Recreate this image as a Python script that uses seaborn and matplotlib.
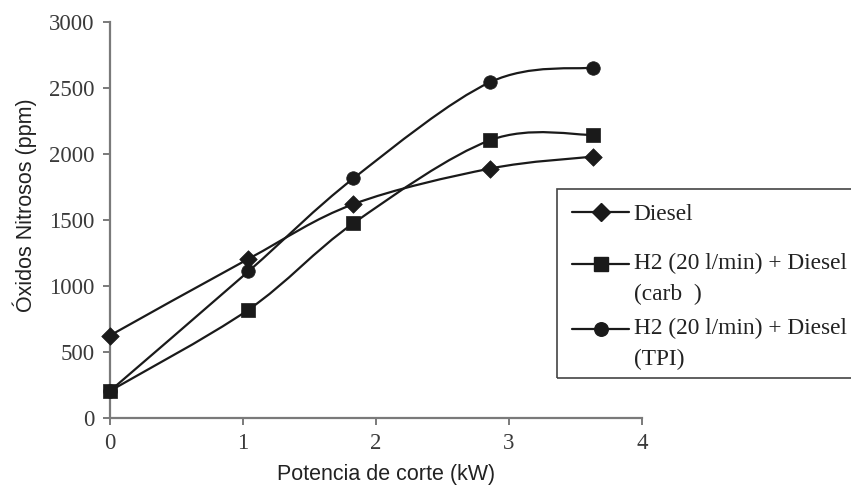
import numpy as np
import pandas as pd
import matplotlib
matplotlib.use("Agg")
import matplotlib.pyplot as plt
from matplotlib.path import Path
from matplotlib.patches import PathPatch, Rectangle
from matplotlib.lines import Line2D
from matplotlib.legend_handler import HandlerLine2D
import seaborn as sns

# Measured NOx emissions versus cutting power
potencia_diesel = [0.0, 1.04, 1.83, 2.86, 3.63]
nox_diesel = [625, 1205, 1620, 1890, 1980]

potencia_carb = [0.0, 1.04, 1.83, 2.86, 3.63]
nox_carb = [205, 820, 1475, 2105, 2145]

potencia_tpi = [0.0, 1.04, 1.83, 2.86, 3.63]
nox_tpi = [205, 1110, 1815, 2545, 2655]

series_labels = ["Diesel",
                 "H2 (20 l/min) + Diesel\n(carb  )",
                 "H2 (20 l/min) + Diesel\n(TPI)"]
series_markers = ["D", "s", "o"]
series_area = [80, 115, 95]

x_ticks = [0, 1, 2, 3, 4]
y_ticks = [0, 500, 1000, 1500, 2000, 2500, 3000]

ink = "#1a1a1a"
axis_grey = "#7a7a7a"

sns.set_style("ticks")
plt.rcParams["font.family"] = ["Liberation Serif", "DejaVu Serif"]

frames = []
for lab, xs, ys in zip(series_labels,
                       [potencia_diesel, potencia_carb, potencia_tpi],
                       [nox_diesel, nox_carb, nox_tpi]):
    frames.append(pd.DataFrame({"potencia": xs, "nox": ys, "serie": lab}))
df = pd.concat(frames, ignore_index=True)

fig = plt.figure(figsize=(8.51, 4.91), dpi=100)
ax = fig.add_axes([110 / 851, 1 - 418 / 491, 532 / 851, 396 / 491])


def smooth_path(xs, ys):
    """Cubic Bezier path through the points (Catmull-Rom style smoothing)."""
    pts = np.column_stack([xs, ys]).astype(float)
    n = len(pts)
    verts = [pts[0]]
    codes = [Path.MOVETO]
    for i in range(n - 1):
        p0 = pts[i - 1] if i > 0 else pts[i]
        p1 = pts[i]
        p2 = pts[i + 1]
        p3 = pts[i + 2] if i + 2 < n else pts[i + 1]
        c1 = p1 + (p2 - p0) / 6.0
        c2 = p2 - (p3 - p1) / 6.0
        verts += [c1, c2, p2]
        codes += [Path.CURVE4] * 3
    return Path(verts, codes)


for lab, mk, area in zip(series_labels, series_markers, series_area):
    sub = df[df["serie"] == lab]
    ax.add_patch(PathPatch(smooth_path(sub["potencia"], sub["nox"]),
                           facecolor="none", edgecolor=ink, lw=1.6, zorder=2))
    sns.scatterplot(data=sub, x="potencia", y="nox", marker=mk, s=area,
                    color=ink, edgecolor=ink, linewidth=0.5, legend=False,
                    zorder=3, ax=ax, clip_on=False)

ax.set_xlim(0, 4)
ax.set_ylim(0, 3000)
ax.set_xticks(x_ticks)
ax.set_yticks(y_ticks)
ax.set_xticklabels([str(v) for v in x_ticks])
ax.set_yticklabels([str(v) for v in y_ticks])

for side in ("top", "right"):
    ax.spines[side].set_visible(False)
for side in ("left", "bottom"):
    ax.spines[side].set_color(axis_grey)
    ax.spines[side].set_linewidth(1.6)

ax.tick_params(axis="both", direction="out", length=5, width=1.4,
               color=axis_grey, labelsize=16.5, labelcolor="#3a3a3a", pad=6)

sans = ["Liberation Sans", "DejaVu Sans"]
ax.set_xlabel("Potencia de corte (kW)", family=sans, fontsize=15.5,
              color="#222222", labelpad=7)
ax.set_ylabel("Óxidos Nitrosos (ppm)", family=sans, fontsize=15.5,
              color="#222222", labelpad=9)
ax.xaxis.label.set_x(0.519)
ax.yaxis.label.set_y(0.538)


class FirstLineHandler(HandlerLine2D):
    """Line handle lifted to sit beside the first line of a wrapped label."""

    def __init__(self, lift=0.0, **kw):
        super().__init__(**kw)
        self.lift = lift

    def create_artists(self, legend, orig_handle, xdescent, ydescent,
                       width, height, fontsize, trans):
        arts = super().create_artists(legend, orig_handle, xdescent, ydescent,
                                      width, height, fontsize, trans)
        for a in arts:
            a.set_ydata(np.asarray(a.get_ydata()) + self.lift * fontsize)
        return arts


# one legend block per series, stacked at an even pitch inside a shared frame
entry_centres_px = [214, 279, 344]
for lab, mk, area, yc in zip(series_labels, series_markers, series_area,
                             entry_centres_px):
    h = Line2D([], [], color=ink, lw=1.6, marker=mk, markersize=np.sqrt(area),
               markerfacecolor=ink, markeredgecolor=ink)
    lift = 0.64 if "\n" in lab else 0.0
    leg = fig.legend([h], [lab], loc="center left",
                     bbox_to_anchor=(572 / 851, 1 - yc / 491),
                     frameon=False, fontsize=16.8, handlelength=2.45,
                     handletextpad=0.2, borderpad=0, borderaxespad=0,
                     handler_map={h: FirstLineHandler(lift=lift)})
    for t in leg.get_texts():
        t.set_color("#222222")
        t.set_linespacing(1.65)

# legend frame running off the right edge of the figure
fig.add_artist(Rectangle((557 / 851, 1 - 378 / 491), 320 / 851, 189 / 491,
                         transform=fig.transFigure, facecolor="none",
                         edgecolor="#444444", lw=1.2, zorder=5))

fig.savefig("out.png", dpi=100)
